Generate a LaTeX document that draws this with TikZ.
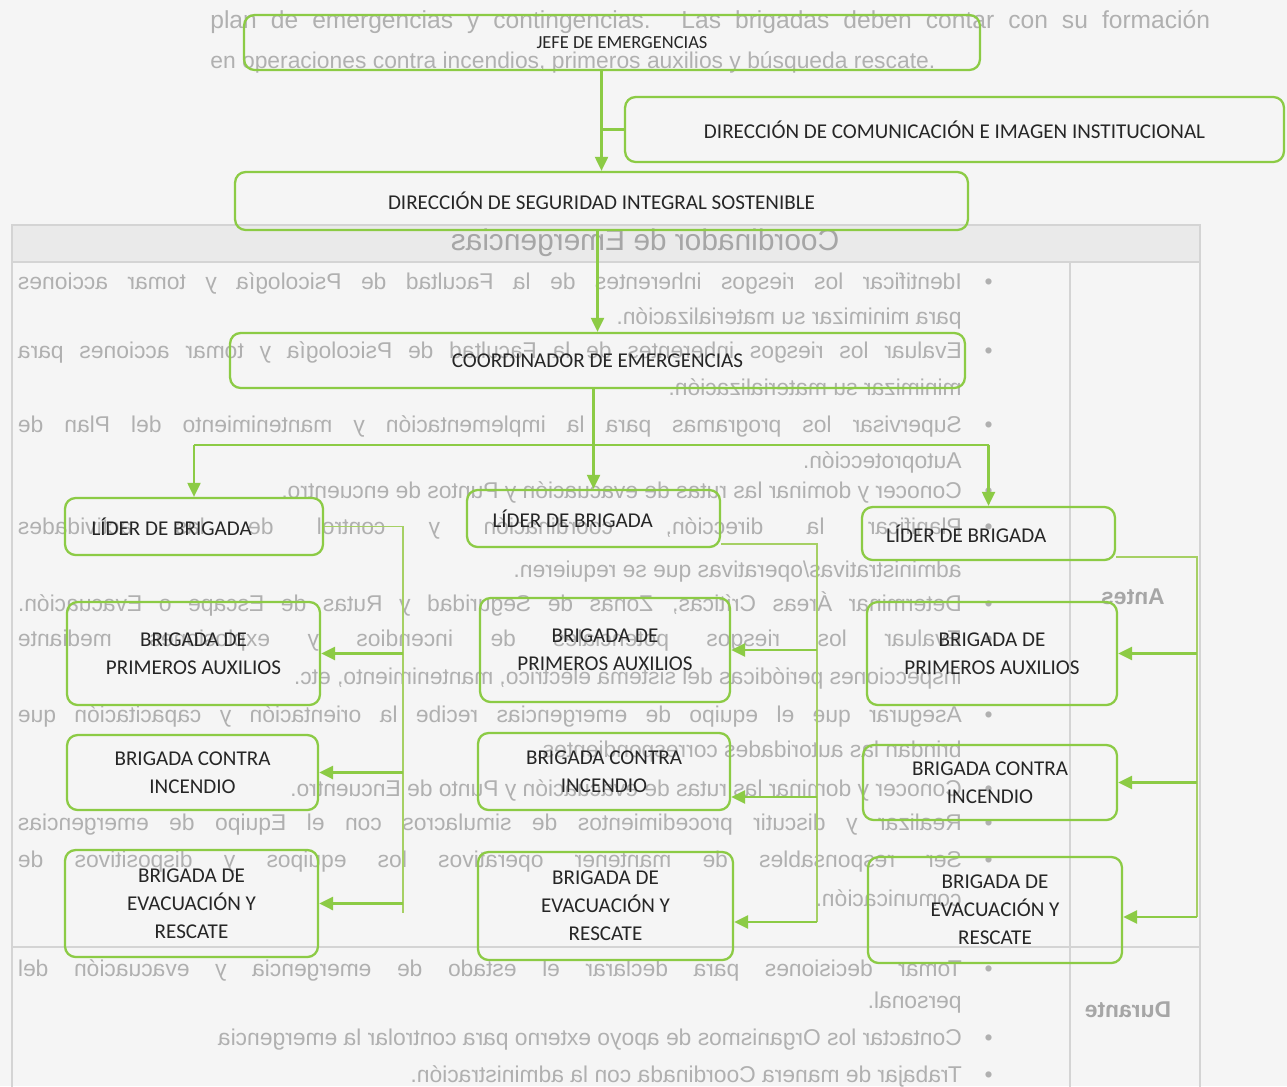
\documentclass[tikz,border=0pt]{standalone}
\usepackage{fontspec}
\setmainfont{Carlito}
\newfontfamily\bgfont{Liberation Sans}
\usetikzlibrary{arrows.meta}
\definecolor{grn}{HTML}{8CCB45}
\definecolor{grnl}{HTML}{A6D064}
\definecolor{pagebg}{HTML}{F5F5F5}
\definecolor{bandbg}{HTML}{EAEAEA}
\definecolor{bgtxt}{HTML}{B0B0B0}
\definecolor{tbl}{HTML}{D4D4D4}
\tikzset{
  box/.style={draw=grn, line width=1.3pt, rounded corners=6pt, align=center,
    font=\fontsize{12}{16}\selectfont, text=black!85, inner sep=0pt},
  conn/.style={draw=grn, line width=1.2pt},
  arr/.style={conn, -{Triangle[length=0.28cm,width=0.26cm]}},
  thinl/.style={draw=grnl, line width=0.7pt},
  barr/.style={draw=grn, line width=1.6pt, -{Triangle[length=0.28cm,width=0.26cm]}},
  bgt/.style={font=\bgfont\fontsize{13}{15}\selectfont, text=bgtxt, inner sep=0pt},
  bgh/.style={font=\bgfont\fontsize{17}{20}\selectfont, text=black!35, inner sep=0pt},
  bgb/.style={font=\bgfont\bfseries\fontsize{13}{15}\selectfont, text=black!35, inner sep=0pt}
}
\begin{document}
\begin{tikzpicture}[x=0.02cm,y=-0.02cm]
\useasboundingbox (0,0) rectangle (1287,1086);
\fill[pagebg] (0,0) rectangle (1287,1086);

% faint background page
\fill[bandbg] (12,225) rectangle (1200,262);
\draw[tbl, line width=0.8pt] (12,225) rectangle (1200,1090);
\draw[tbl, line width=0.8pt] (12,262) -- (1200,262);
\draw[tbl, line width=0.8pt] (1070,262) -- (1070,1090);
\draw[tbl, line width=0.8pt] (12,947) -- (1200,947);

\node[bgt, font=\bgfont\fontsize{14}{16}\selectfont, anchor=west] (p1) at (210,22) {\makebox[20cm][s]{plan de emergencias y contingencias. Las brigadas deben contar con su formación}};
\node[bgt, anchor=west] (p2) at (210,62) {en operaciones contra incendios, primeros auxilios y búsqueda rescate.};

\begin{scope}[xscale=-1, transform shape]
\node[bgh] (th) at (-645,243) {Coordinador de Emergencias};
\node[bgb] (antes) at (-1133,597) {Antes};
\node[bgb] (durante) at (-1128,1010) {Durante};
\node[bgt, anchor=west] (b1) at (-993,283) {\makebox[19.5cm][s]{•\hspace{1em}Identificar los riesgos inherentes de la Facultad de Psicología y tomar acciones}};
\node[bgt, anchor=west] (b2) at (-962,318) {para minimizar su materialización.};
\node[bgt, anchor=west] (b3) at (-993,352) {\makebox[19.5cm][s]{•\hspace{1em}Evaluar los riesgos inherentes de la Facultad de Psicología y tomar acciones para}};
\node[bgt, anchor=west] (b4) at (-962,387) {minimizar su materialización.};
\node[bgt, anchor=west] (b5) at (-993,426) {\makebox[19.5cm][s]{•\hspace{1em}Supervisar los programas para la implementación y mantenimiento del Plan de}};
\node[bgt, anchor=west] (b6) at (-962,462) {Autoprotección.};
\node[bgt, anchor=west] (b7) at (-993,492) {•\hspace{1em}Conocer y dominar las rutas de evacuación y Puntos de encuentro.};
\node[bgt, anchor=west] (b8) at (-993,528) {\makebox[19.5cm][s]{•\hspace{1em}Planificar la dirección, coordinación y control de las actividades}};
\node[bgt, anchor=west] (b9) at (-962,572) {administrativas/operativas que se requieren.};
\node[bgt, anchor=west] (b10) at (-993,604) {\makebox[19.5cm][s]{•\hspace{1em}Determinar Áreas Críticas, Zonas de Seguridad y Rutas de Escape o Evacuación.}};
\node[bgt, anchor=west] (b11) at (-993,641) {\makebox[19.5cm][s]{•\hspace{1em}Evaluar los riesgos potenciales de incendios y explosiones mediante}};
\node[bgt, anchor=west] (b12) at (-962,678) {inspecciones periódicas del sistema eléctrico, mantenimiento, etc.};
\node[bgt, anchor=west] (b13) at (-993,716) {\makebox[19.5cm][s]{•\hspace{1em}Asegurar que el equipo de emergencias recibe la orientación y capacitación que}};
\node[bgt, anchor=west] (b14) at (-962,752) {brindan las autoridades correspondientes.};
\node[bgt, anchor=west] (b15) at (-993,790) {•\hspace{1em}Conocer y dominar las rutas de evacuación y Punto de Encuentro.};
\node[bgt, anchor=west] (b16) at (-993,825) {\makebox[19.5cm][s]{•\hspace{1em}Realizar y discutir procedimientos de simulacros con el Equipo de emergencias}};
\node[bgt, anchor=west] (b17) at (-993,862) {\makebox[19.5cm][s]{•\hspace{1em}Ser responsables de mantener operativos los equipos y dispositivos de}};
\node[bgt, anchor=west] (b18) at (-962,898) {comunicación.};
\node[bgt, anchor=west] (b19) at (-993,970) {\makebox[19.5cm][s]{•\hspace{1em}Tomar decisiones para declarar el estado de emergencia y evacuación del}};
\node[bgt, anchor=west] (b20) at (-962,1003) {personal.};
\node[bgt, anchor=west] (b21) at (-993,1040) {•\hspace{1em}Contactar los Organismos de apoyo externo para controlar la emergencia};
\node[bgt, anchor=west] (b22) at (-993,1076) {•\hspace{1em}Trabajar de manera Coordinada con la administración.};
\end{scope}

% diagram boxes
\node[box, font=\fontsize{10.5}{14}\selectfont, minimum width=14.72cm, minimum height=1.1cm] (jefe) at (612,42.5) {\hspace*{0.4cm}JEFE DE EMERGENCIAS};
\node[box, minimum width=13.18cm, minimum height=1.3cm] (dcom) at (954.5,129.5) {DIRECCIÓN DE COMUNICACIÓN E IMAGEN INSTITUCIONAL};
\node[box, minimum width=14.66cm, minimum height=1.16cm] (dsis) at (601.5,201) {DIRECCIÓN DE SEGURIDAD INTEGRAL SOSTENIBLE};
\node[box, minimum width=14.7cm, minimum height=1.1cm] (coord) at (597.5,360.5) {COORDINADOR DE EMERGENCIAS};

\node[box, minimum width=5.16cm, minimum height=1.14cm] (l1) at (194,526.5) {\makebox[4.1cm][l]{LÍDER DE BRIGADA}};
\node[box, minimum width=5.06cm, minimum height=1.14cm] (l2) at (593.5,518.5) {\makebox[4.04cm][l]{LÍDER DE BRIGADA}};
\node[box, minimum width=5.06cm, minimum height=1.06cm] (l3) at (988.5,533.5) {\makebox[4.1cm][l]{LÍDER DE BRIGADA}};

\node[box, minimum width=5.06cm, minimum height=2.06cm] (pa1) at (193.5,653.5) {BRIGADA DE\\PRIMEROS AUXILIOS};
\node[box, minimum width=5.0cm, minimum height=2.08cm] (pa2) at (605,650) {BRIGADA DE\\PRIMEROS AUXILIOS};
\node[box, minimum width=5.0cm, minimum height=2.06cm] (pa3) at (992,653.5) {BRIGADA DE\\PRIMEROS AUXILIOS};

\node[box, minimum width=5.02cm, minimum height=1.5cm] (ci1) at (192.5,772.5) {BRIGADA CONTRA\\INCENDIO};
\node[box, minimum width=5.04cm, minimum height=1.54cm] (ci2) at (604,771.5) {BRIGADA CONTRA\\INCENDIO};
\node[box, minimum width=5.08cm, minimum height=1.5cm] (ci3) at (990,782.5) {BRIGADA CONTRA\\INCENDIO};

\node[box, minimum width=5.06cm, minimum height=2.14cm] (evr1) at (191.5,903.5) {BRIGADA DE\\EVACUACIÓN Y\\RESCATE};
\node[box, minimum width=5.1cm, minimum height=2.16cm] (evr2) at (605.5,906) {BRIGADA DE\\EVACUACIÓN Y\\RESCATE};
\node[box, minimum width=5.08cm, minimum height=2.12cm] (evr3) at (995,910) {BRIGADA DE\\EVACUACIÓN Y\\RESCATE};

% top connectors
\draw[arr] (jefe.south -| dsis.north) -- (dsis.north);
\draw[conn] (dcom.west) -- (dcom.west -| dsis.north);
\draw[arr] (coord.north |- dsis.south) -- (coord.north);
\draw[arr] (coord.south -| l2.north) -- (l2.north);

\coordinate (busy) at (0,445);
\draw[conn] (l1.north |- busy) -- (l3.north |- busy);
\draw[arr] (l1.north |- busy) -- (l1.north);
\draw[arr] (l3.north |- busy) -- (l3.north);

% left brigade group
\coordinate (v1) at (403,0);
\coordinate (e1) at (403,913);
\draw[thinl] (l1.east) -- (l1.east -| v1) -- (e1);
\draw[barr] (pa1.east -| v1) -- (pa1.east);
\draw[barr] (ci1.east -| v1) -- (ci1.east);
\draw[barr] (evr1.east -| v1) -- (evr1.east);

% middle brigade group
\coordinate (v2) at (817,0);
\coordinate (s2) at ([yshift=2.3pt]l2.south east);
\coordinate (t2) at ([yshift=-0.51cm]ci2.east);
\coordinate (u2) at ([yshift=-0.32cm]evr2.east);
\draw[thinl] (s2) -- (s2 -| v2) -- (u2 -| v2);
\draw[barr] (pa2.east -| v2) -- (pa2.east);
\draw[barr] (t2 -| v2) -- (t2);
\draw[barr] (u2 -| v2) -- (u2);

% right brigade group
\coordinate (v3) at (1197,0);
\coordinate (s3) at ([yshift=2.3pt]l3.south east);
\coordinate (u3) at ([yshift=-0.14cm]evr3.east);
\draw[thinl] (s3) -- (s3 -| v3) -- (u3 -| v3);
\draw[barr] (pa3.east -| v3) -- (pa3.east);
\draw[barr] (ci3.east -| v3) -- (ci3.east);
\draw[barr] (u3 -| v3) -- (u3);
\end{tikzpicture}
\end{document}
